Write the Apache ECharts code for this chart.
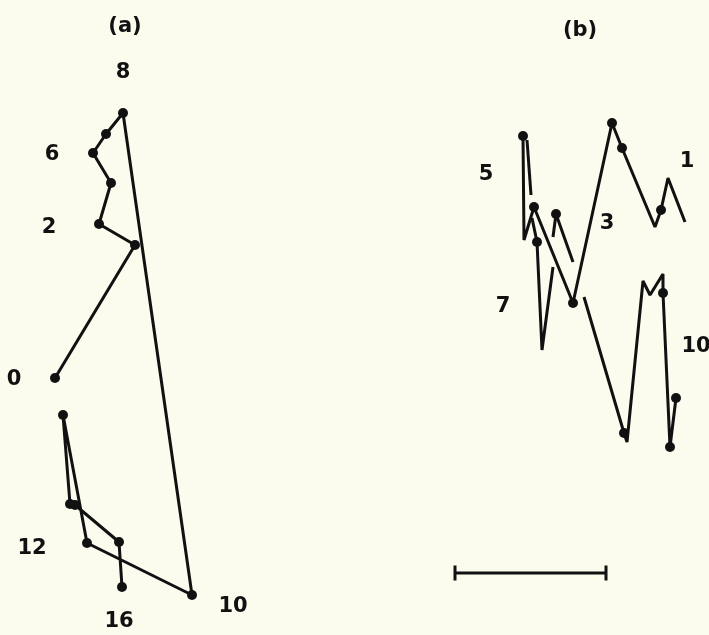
<!DOCTYPE html>
<html lang="en">
<head>
  <meta charset="UTF-8">
  <title>(a) (b)</title>
  <script src="https://cdn.jsdelivr.net/npm/echarts@6/dist/echarts.min.js"></script>
  <style>
    html, body { margin: 0; padding: 0; background: #fbfbee; }
  </style>
</head>
<body>
<div id="main" style="width: 709px;height: 635px;"></div>
<script>
  // picture units: x to the right, y downwards
  var pathA = [[55,378],[135,245],[99,224],[111,183],[93,153],[106,134],[123,113],
               [192,595],[87,543],[63,415],[70,504],[75,505],[119,542],[122,587]];

  // (b) is drawn in broken strokes
  var pathB = [
    [[523,136],[524,240],[534,207],[573,303],[612,123],[622,148],[655,227],[661,210],[668,178],[685,222]],
    [[527,140],[531,195]],
    [[532,218],[537,242],[542,350],[553,267]],
    [[553,237],[556,214],[573,262]],
    [[584,297],[624,433],[627,442],[643,281],[650,295],[663,274],[663,293],[670,447],[676,398]]
  ];
  var dotsB = [[523,136],[534,207],[537,242],[556,214],[573,303],[612,123],[622,148],
               [661,210],[624,433],[663,293],[670,447],[676,398]];

  var labelText = ['(a)', '(b)', '8', '6', '2', '0', '12', '16', '10', '5', '3', '1', '7', '10'];
  var labelPos = [[125,27],[580,31],[123,73],[52,155],[49,228],[14,380],[32,549],[119,622],[233,607],
                  [486,175],[607,224],[687,162],[503,307],[696,347]];

  var scaleBar = [[455,573],[606,573]];

  var myChart = echarts.init(document.getElementById('main'));

  var ink = '#111111';
  var series = [];

  series.push({
    type: 'line',
    data: pathA,
    symbol: 'circle',
    symbolSize: 10,
    showAllSymbol: true,
    lineStyle: { color: ink, width: 3 },
    itemStyle: { color: ink, opacity: 1 },
    animation: false
  });

  pathB.forEach(function (seg) {
    series.push({
      type: 'line',
      data: seg,
      showSymbol: false,
      lineStyle: { color: ink, width: 3 },
      animation: false
    });
  });

  series.push({
    type: 'scatter',
    data: dotsB,
    symbolSize: 10,
    itemStyle: { color: ink, opacity: 1 },
    animation: false
  });

  series.push({
    type: 'line',
    data: scaleBar,
    symbol: 'rect',
    symbolSize: [3, 15],
    showAllSymbol: true,
    lineStyle: { color: ink, width: 3 },
    itemStyle: { color: ink, opacity: 1 },
    animation: false
  });

  series.push({
    type: 'scatter',
    data: labelPos.map(function (p, i) {
      return { name: labelText[i], value: p };
    }),
    symbolSize: 1,
    itemStyle: { color: 'rgba(0,0,0,0)', opacity: 1 },
    label: {
      show: true,
      position: 'inside',
      formatter: '{b}',
      color: ink,
      opacity: 1,
      fontFamily: 'DejaVu Sans',
      fontWeight: 'bold',
      fontSize: 21
    },
    animation: false
  });

  myChart.setOption({
    backgroundColor: '#fbfbee',
    grid: { left: 0, right: 0, top: 0, bottom: 0 },
    xAxis: { type: 'value', min: 0, max: 709, show: false },
    yAxis: { type: 'value', min: 0, max: 635, inverse: true, show: false },
    series: series
  });
</script>
</body>
</html>
